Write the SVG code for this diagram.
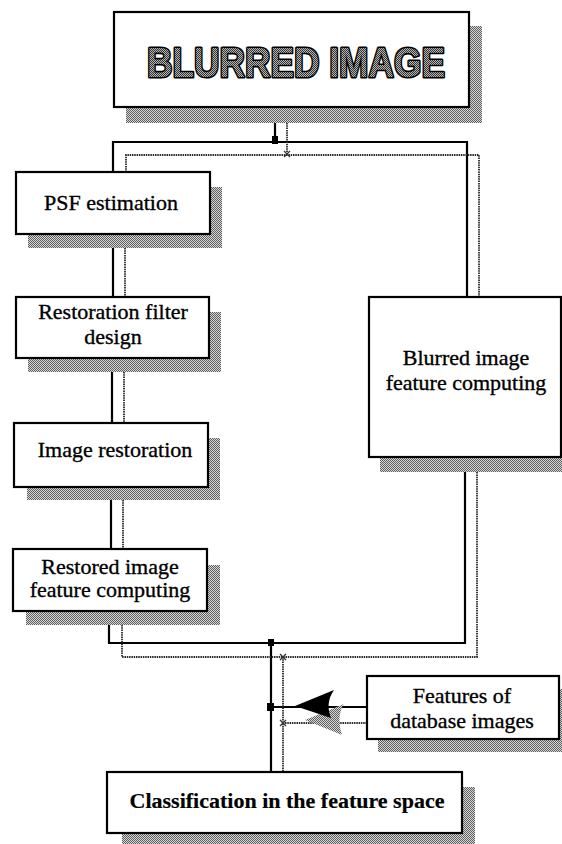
<svg xmlns="http://www.w3.org/2000/svg" width="562" height="844" viewBox="0 0 562 844">
  <defs>
    <!-- halftone dither used for drop shadows and lettering fill -->
    <pattern id="dither" width="2" height="2" patternUnits="userSpaceOnUse">
      <rect width="2" height="2" fill="#d8d8d8"/>
      <rect x="0" y="0" width="1" height="1" fill="#5e5e5e"/>
      <rect x="1" y="1" width="1" height="1" fill="#5e5e5e"/>
    </pattern>
    <pattern id="ditherDark" width="2" height="2" patternUnits="userSpaceOnUse">
      <rect width="2" height="2" fill="#b4b4b4"/>
      <rect x="0" y="0" width="1" height="1" fill="#333"/>
      <rect x="1" y="1" width="1" height="1" fill="#333"/>
    </pattern>
  </defs>
  <style>
    .shadow { fill: url(#dither); }
    .box { fill: #ffffff; stroke: #000000; stroke-width: 2.2; }
    .lbl { font-family: "Liberation Serif", "Times New Roman", serif; font-size: 22px; fill: #000; stroke: #000; stroke-width: 0.35; text-anchor: middle; }
    .bold { font-weight: bold; stroke-width: 0.2; }
    .title { font-family: "Liberation Sans", Arial, sans-serif; font-weight: bold; font-size: 42px; fill: url(#ditherDark); stroke: #000; stroke-width: 3.2; paint-order: stroke fill; stroke-linejoin: round; }
    .solid { fill: none; stroke: #000; stroke-width: 2.2; }
    .dotted { fill: none; stroke: #2a2a2a; stroke-width: 1.8; stroke-dasharray: 1.5 0.8; }
    .joint { fill: #000; }
    .tick { fill: none; stroke: #333; stroke-width: 1.3; }
  </style>

  <rect width="562" height="844" fill="#ffffff"/>

  <!-- connectors -->
  <g id="connectors">
    <!-- solid channel -->
    <path class="solid" d="M275,107 V142"/>
    <path class="solid" d="M113,172 V142 H467 V297"/>
    <path class="solid" d="M113,234 V297"/>
    <path class="solid" d="M112,358 V423"/>
    <path class="solid" d="M111,487 V549"/>
    <path class="solid" d="M109,611 V643 H465 V457"/>
    <path class="solid" d="M271,643 V772"/>
    <path class="solid" d="M367,707 H271"/>
    <!-- dotted channel -->
    <path class="dotted" d="M287,123 V155"/>
    <path class="dotted" d="M126,172 V155 H479 V297"/>
    <path class="dotted" d="M125,248 V297"/>
    <path class="dotted" d="M124,372 V423"/>
    <path class="dotted" d="M123,500 V549"/>
    <path class="dotted" d="M122,625 V657 H477 V472"/>
    <path class="dotted" d="M283,657 V772"/>
    <path class="dotted" d="M367,723 H283"/>
    <!-- junction marks -->
    <rect class="joint" x="272" y="136" width="6" height="8"/>
    <rect class="joint" x="268" y="639" width="6" height="7"/>
    <rect class="joint" x="267" y="703" width="7" height="8"/>
    <path class="tick" d="M284,151 L290,157 M290,151 L284,157"/>
    <path class="tick" d="M280,654 L286,660 M286,654 L280,660"/>
    <path class="tick" d="M280,720 L286,726 M286,720 L280,726"/>
    <!-- arrowhead with its shadow -->
    <path fill="url(#dither)" d="M305,720 L344,704 Q336,716 342,735 Z"/>
    <path fill="#000" d="M295,706 L334,690 Q325,703 331,718 Z"/>
  </g>

  <g id="blurred-image">
    <rect class="shadow" x="126" y="26" width="356" height="97"/>
    <rect class="box" x="114" y="12" width="355" height="95"/>
    <text class="title" x="147" y="77" textLength="298" lengthAdjust="spacingAndGlyphs">BLURRED IMAGE</text>
  </g>

  <g id="psf-estimation">
    <rect class="shadow" x="28" y="187" width="194" height="61"/>
    <rect class="box" x="16" y="172" width="194" height="62"/>
    <text class="lbl" x="111" y="210">PSF estimation</text>
  </g>

  <g id="restoration-filter-design">
    <rect class="shadow" x="28" y="312" width="193" height="60"/>
    <rect class="box" x="16" y="297" width="193" height="61"/>
    <text class="lbl" x="113" y="319">Restoration filter</text>
    <text class="lbl" x="113" y="344">design</text>
  </g>

  <g id="image-restoration">
    <rect class="shadow" x="27" y="438" width="193" height="62"/>
    <rect class="box" x="14" y="423" width="194" height="64"/>
    <text class="lbl" x="115" y="457">Image restoration</text>
  </g>

  <g id="restored-feature-computing">
    <rect class="shadow" x="26" y="565" width="194" height="60"/>
    <rect class="box" x="13" y="549" width="194" height="62"/>
    <text class="lbl" x="110" y="574">Restored image</text>
    <text class="lbl" x="110" y="597">feature computing</text>
  </g>

  <g id="blurred-feature-computing">
    <rect class="shadow" x="380" y="312" width="190" height="160"/>
    <rect class="box" x="369" y="297" width="192" height="160"/>
    <text class="lbl" x="466" y="365">Blurred image</text>
    <text class="lbl" x="466" y="390">feature computing</text>
  </g>

  <g id="database-features">
    <rect class="shadow" x="378" y="689" width="192" height="63"/>
    <rect class="box" x="367" y="676" width="192" height="63"/>
    <text class="lbl" x="462" y="703">Features of</text>
    <text class="lbl" x="462" y="728">database images</text>
  </g>

  <g id="classification">
    <rect class="shadow" x="122" y="787" width="353" height="60"/>
    <rect class="box" x="107" y="772" width="355" height="61"/>
    <text class="lbl bold" x="287" y="808">Classification in the feature space</text>
  </g>
</svg>
